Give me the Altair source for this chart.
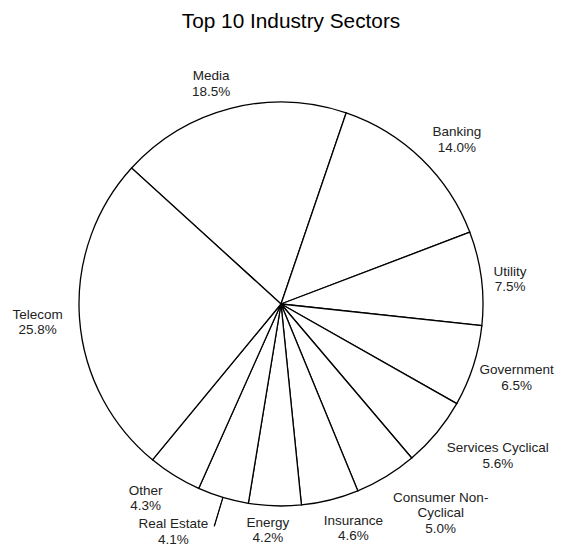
import math
import altair as alt
import pandas as pd

# ---- data (clockwise from the Media slice) ----
sectors = ["Media", "Banking", "Utility", "Government", "Services Cyclical",
           "Consumer Non-Cyclical", "Insurance", "Energy", "Real Estate", "Other", "Telecom"]
label_names = ["Media", "Banking", "Utility", "Government", "Services Cyclical",
               "Consumer Non-\nCyclical", "Insurance", "Energy", "Real Estate", "Other", "Telecom"]
shares = [18.5, 14.0, 7.5, 6.5, 5.6, 5.0, 4.6, 4.2, 4.1, 4.3, 25.8]

df = pd.DataFrame({"idx": list(range(len(sectors))), "sector": sectors,
                   "name": label_names, "share": shares})
total = sum(shares)

FONT = "Liberation Sans, Arial, sans-serif"
start_angle = math.radians(-47.7) + 2 * math.pi
theta_scale = alt.Scale(domain=[0, total], range=[start_angle, start_angle + 2 * math.pi])
PIE_R = 202
LABEL_R = 236

# label nudges (pixels) imitating the spreadsheet's label placement
NUDGE = {
    "Media": (-11, 1), "Banking": (12, -2), "Utility": (-5, -2),
    "Government": (11, -6), "Services Cyclical": (35, -6),
    "Consumer Non-Cyclical": (37, -8), "Insurance": (15, -12),
    "Energy": (-6, -17), "Real Estate": (-40, -6), "Other": (-11, -14),
    "Telecom": (-8, -6),
}

base = alt.Chart(df).transform_window(
    cum="sum(share)", sort=[alt.SortField("idx")], frame=[None, 0]
).transform_calculate(
    start="datum.cum - datum.share",
    mid="datum.cum - datum.share / 2",
    label="datum.name + '\\n' + format(datum.share, '.1f') + '%'",
)

pie = base.mark_arc(fill="white", stroke="black", strokeWidth=1.3, radius=PIE_R).encode(
    theta=alt.Theta("start:Q", scale=theta_scale, stack=None),
    theta2="cum:Q",
)

leader = base.transform_filter(alt.datum.sector == "Real Estate").transform_calculate(
    mid2="datum.mid + 0.02"
).mark_arc(radius=PIE_R, radius2=232, fillOpacity=0, stroke="black", strokeWidth=1).encode(
    theta=alt.Theta("mid:Q", scale=theta_scale, stack=None),
    theta2="mid2:Q",
)

labels = []
for s in sectors:
    ndx, ndy = NUDGE[s]
    labels.append(
        base.transform_filter(alt.datum.sector == s).mark_text(
            radius=LABEL_R, dx=ndx, dy=ndy, align="center", baseline="middle",
            fontSize=13.5, lineHeight=15.5, font=FONT, color="#222", lineBreak="\n",
        ).encode(
            theta=alt.Theta("mid:Q", scale=theta_scale, stack=None),
            text="label:N",
        )
    )

chart = alt.layer(pie, leader, *labels).properties(
    width=546,
    height=484,
    padding={"left": 0, "right": 0, "top": 54, "bottom": 0},
    autosize=alt.AutoSizeParams(type="none"),
    title=alt.TitleParams(
        "Top 10 Industry Sectors", font=FONT, fontSize=20.8, fontWeight="normal",
        color="black", frame="group", baseline="alphabetic", offset=13, dx=10,
    ),
).configure_view(stroke=None).configure(background="white")

chart.save("out.html", embed_options={"renderer": "svg", "actions": False})
